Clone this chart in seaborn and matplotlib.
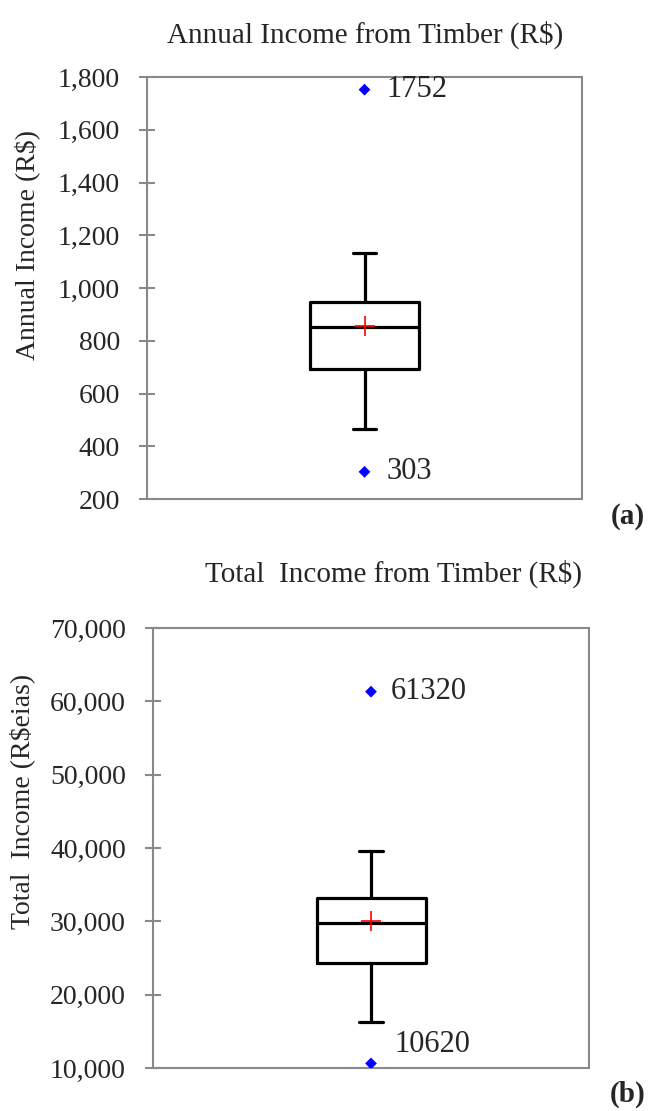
import matplotlib
matplotlib.use('Agg')
import matplotlib.pyplot as plt
import seaborn as sns
import pandas as pd
from matplotlib.ticker import FuncFormatter, MultipleLocator

# ---- data ----
titles = ["Annual Income from Timber (R$)", "Total  Income from Timber (R$)"]
ylabels = ["Annual Income (R$)", "Total  Income (R$eias)"]
panel_tags = ["(a)", "(b)"]
whisker_low = [464, 16300]
q1 = [694, 24250]
median = [851, 29750]
q3 = [948, 33200]
whisker_high = [1133, 39600]
means = [856, 30000]
outliers = [[1752, 303], [61320, 10620]]
ylims = [(200, 1800), (10000, 70000)]
ysteps = [200, 10000]

sns.set_style('white')
plt.rcParams['font.family'] = ['Liberation Serif', 'DejaVu Serif']

fig = plt.figure(figsize=(6.52, 11.11), dpi=100)
W, H = 652, 1111

axes_px = [(147, 77, 582, 499), (153, 628, 589, 1068)]
title_pos = [(365, 35), (394, 574)]
ylabel_pos = [(27, 245), (22, 801)]
tag_pos = [(628, 517), (628, 1094)]
label_offsets = [[(16, 0), (16, 0)], [(14, 0), (17, 14)]]

gray = '#898989'
for i in range(2):
    l, t, r, b = axes_px[i]
    ax = fig.add_axes([l / W, 1 - b / H, (r - l) / W, (b - t) / H])
    stats = [dict(med=median[i], q1=q1[i], q3=q3[i], whislo=whisker_low[i],
                  whishi=whisker_high[i], fliers=[])]
    lp = dict(color='black', linewidth=2.3)
    ax.bxp(stats, positions=[0], widths=0.5, capwidths=0.11, showfliers=False,
           boxprops=lp, medianprops=lp, whiskerprops=lp, capprops=lp)
    df = pd.DataFrame({'x': [0] * len(outliers[i]), 'y': outliers[i]})
    sns.scatterplot(data=df, x='x', y='y', marker='D', color='#0000ff', s=36,
                    edgecolor='none', ax=ax, zorder=5)
    dm = pd.DataFrame({'x': [0], 'y': [means[i]]})
    sns.scatterplot(data=dm, x='x', y='y', marker='+', color='#ff0000', s=200,
                    linewidth=1.2, ax=ax, zorder=6)
    for v, off in zip(outliers[i], label_offsets[i]):
        ax.annotate(f"{v}", (0, v), xytext=off, textcoords='offset points',
                    ha='left', va='center', fontsize=22)
    ax.set_xlim(-1, 1)
    ax.set_ylim(*ylims[i])
    ax.yaxis.set_major_locator(MultipleLocator(ysteps[i]))
    ax.yaxis.set_major_formatter(FuncFormatter(lambda v, p: f"{int(v):,}"))
    ax.set_xticks([])
    ax.set_xlabel('')
    ax.set_ylabel('')
    for s in ax.spines.values():
        s.set_color(gray)
        s.set_linewidth(1.5)
    ax.tick_params(axis='y', direction='inout', length=11, width=1.5,
                   color=gray, labelsize=20, pad=14, left=True)
    fig.text(title_pos[i][0] / W, 1 - title_pos[i][1] / H, titles[i],
             ha='center', va='center', fontsize=21)
    fig.text(ylabel_pos[i][0] / W, 1 - ylabel_pos[i][1] / H, ylabels[i],
             ha='center', va='center', rotation=90, fontsize=20)
    fig.text(tag_pos[i][0] / W, 1 - tag_pos[i][1] / H, panel_tags[i],
             ha='center', va='center', fontsize=21, fontweight='bold')

fig.savefig('out.png', dpi=100)
